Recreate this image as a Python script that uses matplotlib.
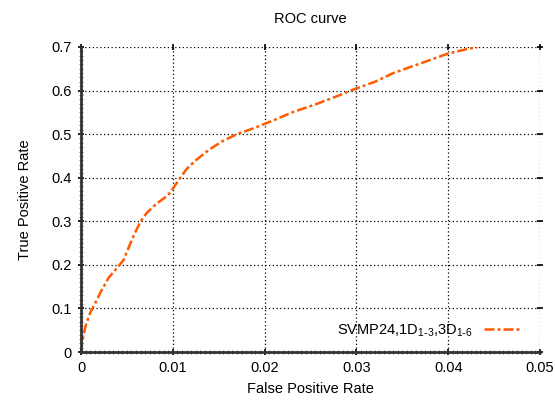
import matplotlib
matplotlib.use("Agg")
import matplotlib.pyplot as plt
from matplotlib.ticker import MultipleLocator

plt.rcParams['font.family'] = ['Liberation Sans', 'DejaVu Sans']

fpr = [0, 0.0002, 0.0005, 0.0010, 0.0015, 0.0022, 0.0030, 0.0038, 0.0046, 0.0052,
       0.0058, 0.0065, 0.0072, 0.0082, 0.0095, 0.0105, 0.0115, 0.0125, 0.0140, 0.0155,
       0.0170, 0.0190, 0.0210, 0.0230, 0.0255, 0.0280, 0.0300, 0.0320, 0.0340, 0.0360,
       0.0380, 0.0400, 0.0420, 0.0432]
tpr = [0, 0.03, 0.06, 0.09, 0.11, 0.14, 0.17, 0.19, 0.21, 0.24,
       0.27, 0.30, 0.32, 0.34, 0.36, 0.39, 0.42, 0.44, 0.465, 0.485,
       0.50, 0.515, 0.532, 0.55, 0.568, 0.588, 0.605, 0.62, 0.64, 0.655,
       0.67, 0.685, 0.695, 0.70]
xticks = [0, 0.01, 0.02, 0.03, 0.04, 0.05]
xtick_labels = ['0', '0.01', '0.02', '0.03', '0.04', '0.05']
yticks = [0, 0.1, 0.2, 0.3, 0.4, 0.5, 0.6, 0.7]
ytick_labels = ['0', '0.1', '0.2', '0.3', '0.4', '0.5', '0.6', '0.7']
series_label = r'SVMP24,1D$_{\mathregular{1\text{-}3}}$,3D$_{\mathregular{1\text{-}6}}$'

fig = plt.figure(figsize=(5.55, 4.01), dpi=100)
ax = fig.add_axes([81/555, 1-352/401, (540-81)/555, (352-47)/401])

ax.plot(fpr, tpr, color='#ff5a00', lw=1.8, linestyle=(0, (4, 1.2, 1.2, 1.2)), label=series_label)

ax.set_xlim(0, 0.05)
ax.set_ylim(0, 0.7)
ax.set_xticks(xticks)
ax.set_xticklabels(xtick_labels)
ax.set_yticks(yticks)
ax.set_yticklabels(ytick_labels)
ax.xaxis.set_minor_locator(MultipleLocator(0.0005))
ax.yaxis.set_minor_locator(MultipleLocator(0.01))

ax.grid(True, which='major', color='black', linestyle=(0, (1, 2)), lw=0.9)
for s in ['top', 'right']:
    ax.spines[s].set_visible(False)
for s in ['left', 'bottom']:
    ax.spines[s].set_linewidth(2)
    ax.spines[s].set_color('#333333')

ax.tick_params(which='major', direction='inout', length=5, width=1.2, labelsize=10.5,
               top=True, right=True, pad=4)
ax.tick_params(which='minor', direction='inout', length=2.5, width=0.7, color='#666666')

ax.set_title('ROC curve', fontsize=10.5, pad=17)
ax.set_xlabel('False Positive Rate', fontsize=10.5, labelpad=5)
ax.set_ylabel('True Positive Rate', fontsize=10.5, labelpad=14)

leg = ax.legend(loc='lower right', frameon=False, fontsize=10.5, markerfirst=False,
                handlelength=2.6, bbox_to_anchor=(0.99, 0.0))

fig.savefig('out.png', dpi=100)
